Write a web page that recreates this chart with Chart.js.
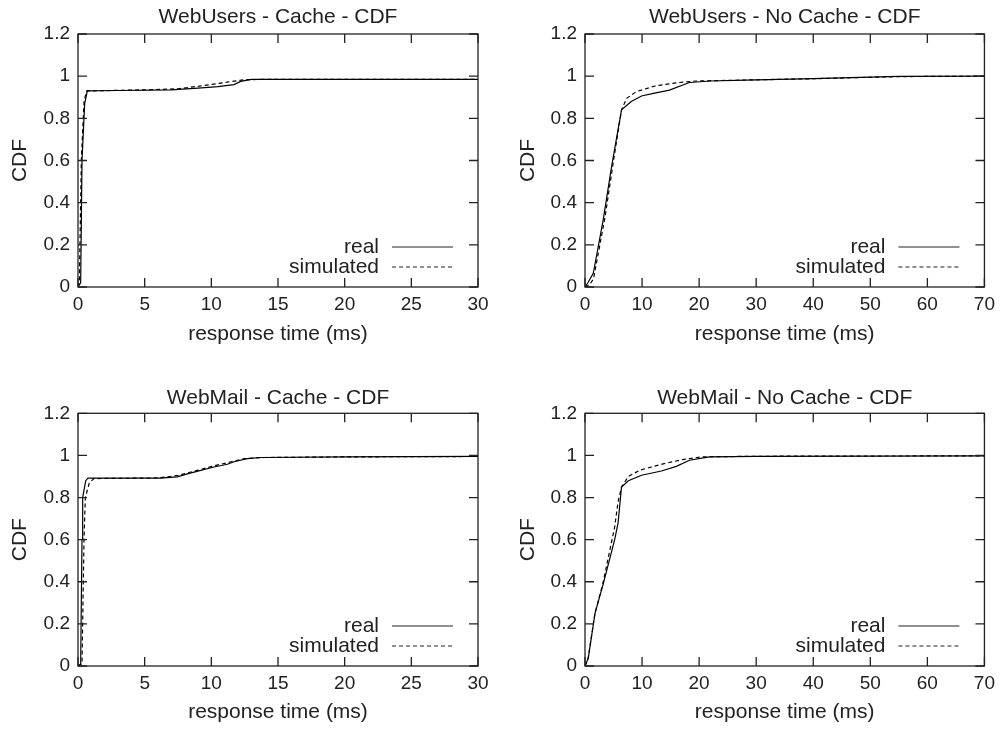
<!DOCTYPE html>
<html>
<head>
<meta charset="utf-8">
<script src="https://cdn.jsdelivr.net/npm/chart.js@4.4.0/dist/chart.umd.min.js"></script>
<style>
  body { margin: 0; background: #fff; width: 1001px; height: 729px; position: relative; overflow: hidden; }
  canvas { position: absolute; }
</style>
</head>
<body>
<canvas id="wuCache" width="500" height="365" style="left:0;top:0"></canvas>
<canvas id="wuNoCache" width="501" height="365" style="left:500px;top:0"></canvas>
<canvas id="wmCache" width="500" height="364" style="left:0;top:365px"></canvas>
<canvas id="wmNoCache" width="501" height="364" style="left:500px;top:365px"></canvas>
<script>
// [response time (ms), CDF]
const wuCacheReal = [[0,0],[0.2,0.02],[0.3,0.6],[0.5,0.87],[0.7,0.93],[3,0.932],[7,0.935],[9,0.943],[10.5,0.95],[11.7,0.96],[12.2,0.975],[13,0.985],[30,0.985]];
const wuCacheSim  = [[0,0],[0.1,0.02],[0.25,0.6],[0.45,0.88],[0.65,0.93],[5,0.935],[7.5,0.94],[9,0.952],[10.5,0.965],[11.5,0.975],[12.5,0.983],[14,0.985],[30,0.985]];

const wuNoCacheReal = [[0,0],[0.5,0.02],[1.45,0.065],[3.2,0.32],[4.65,0.57],[6.4,0.84],[8.1,0.88],[9.9,0.906],[12,0.918],[14.8,0.934],[18.3,0.97],[22,0.977],[30,0.982],[40,0.988],[50,0.995],[55,0.999],[70,1]];
const wuNoCacheSim  = [[0,0],[0.8,0.01],[1.5,0.04],[3.5,0.33],[5,0.6],[6.4,0.84],[7.3,0.895],[9,0.927],[12.5,0.955],[16.5,0.97],[19.4,0.977],[25,0.98],[40,0.988],[55,0.998],[70,1]];

const wmCacheReal = [[0,0],[0.2,0.01],[0.3,0.6],[0.35,0.8],[0.58,0.88],[0.75,0.892],[6.2,0.892],[7.45,0.898],[8.2,0.912],[8.7,0.921],[10.2,0.945],[11.2,0.958],[11.7,0.97],[12.7,0.985],[13.7,0.99],[20,0.993],[30,0.995]];
const wmCacheSim  = [[0,0],[0.3,0.01],[0.45,0.6],[0.55,0.8],[0.85,0.87],[1.2,0.89],[6,0.893],[7.5,0.905],[9,0.93],[10.5,0.955],[11.5,0.97],[12.5,0.985],[14,0.99],[20,0.993],[30,0.995]];

const wmNoCacheReal = [[0,0],[0.58,0.037],[1.75,0.25],[3.2,0.39],[5.2,0.6],[5.8,0.68],[6.4,0.85],[7.6,0.88],[9.9,0.906],[13.4,0.926],[16,0.948],[18.3,0.977],[21.8,0.993],[30,0.995],[70,0.998]];
const wmNoCacheSim  = [[0,0],[0.5,0.03],[1.75,0.25],[3.2,0.4],[5.2,0.66],[5.8,0.78],[6.4,0.85],[7.6,0.9],[9.6,0.93],[13.7,0.96],[17.1,0.98],[20.5,0.993],[30,0.996],[70,0.998]];

const seriesNames = ['real', 'simulated'];

const FONT = '"Liberation Sans", Arial, sans-serif';
const INK = '#222';

// gnuplot-like box with inward ticks and a legend in the lower right
const frame = {
  id: 'frame',
  afterDatasetsDraw(chart) {
    const { ctx, chartArea: a, scales: { x, y } } = chart;
    ctx.save();
    ctx.strokeStyle = INK;
    ctx.lineWidth = 1.3;
    ctx.strokeRect(a.left, a.top, a.right - a.left, a.bottom - a.top);
    ctx.beginPath();
    x.ticks.forEach(t => {
      const p = x.getPixelForValue(t.value);
      ctx.moveTo(p, a.bottom); ctx.lineTo(p, a.bottom - 9);
      ctx.moveTo(p, a.top); ctx.lineTo(p, a.top + 9);
    });
    y.ticks.forEach(t => {
      const p = y.getPixelForValue(t.value);
      ctx.moveTo(a.left, p); ctx.lineTo(a.left + 9, p);
      ctx.moveTo(a.right, p); ctx.lineTo(a.right - 9, p);
    });
    ctx.stroke();

    ctx.font = '21px ' + FONT;
    ctx.fillStyle = INK;
    ctx.textAlign = 'right';
    ctx.textBaseline = 'middle';
    chart.data.datasets.forEach((ds, i) => {
      const ly = a.bottom - 40 + i * 20;
      ctx.fillText(ds.label, a.right - 99, ly);
      ctx.beginPath();
      ctx.lineWidth = 1.2;
      ctx.setLineDash(ds.borderDash || []);
      ctx.moveTo(a.right - 86, ly);
      ctx.lineTo(a.right - 25, ly);
      ctx.stroke();
    });
    ctx.restore();
  }
};

function makeChart(id, title, real, sim, xMax, xStep, opts) {
  const toPts = arr => arr.map(p => ({ x: p[0], y: p[1] }));
  new Chart(document.getElementById(id), {
    type: 'line',
    data: {
      datasets: [
        { label: seriesNames[0], data: toPts(real), borderColor: '#000', borderWidth: 1.2 },
        { label: seriesNames[1], data: toPts(sim), borderColor: '#000', borderWidth: 1.2, borderDash: [4, 3] }
      ]
    },
    options: {
      responsive: false,
      animation: false,
      elements: { point: { radius: 0 }, line: { tension: 0 } },
      layout: { padding: { left: 0, right: opts.padRight, top: 0, bottom: 0 } },
      plugins: {
        legend: { display: false },
        tooltip: { enabled: false },
        title: {
          display: true,
          text: title,
          fullSize: false,
          color: INK,
          font: { family: FONT, size: 21, weight: 'normal', lineHeight: 1.2 },
          padding: { top: opts.titleTop, bottom: opts.titleBottom }
        }
      },
      scales: {
        x: {
          type: 'linear',
          min: 0, max: xMax,
          grid: { display: false, drawTicks: false },
          border: { display: false },
          ticks: { stepSize: xStep, color: INK, padding: 6, maxRotation: 0, font: { family: FONT, size: 19 } },
          title: {
            display: true, text: 'response time (ms)', color: INK,
            font: { family: FONT, size: 21, lineHeight: 1.2 },
            padding: { top: 0, bottom: opts.xTitleBottom }
          },
          afterFit(s) { s.height = opts.xHeight; }
        },
        y: {
          min: 0, max: 1.2,
          grid: { display: false, drawTicks: false },
          border: { display: false },
          ticks: {
            stepSize: 0.2, color: INK, padding: 8, font: { family: FONT, size: 19 },
            callback: v => String(Math.round(v * 10) / 10)
          },
          title: {
            display: true, text: 'CDF', color: INK,
            font: { family: FONT, size: 21, lineHeight: 1.2 },
            padding: { top: opts.yTitleTop, bottom: 0 }
          },
          afterFit(s) { s.width = opts.yWidth; }
        }
      }
    },
    plugins: [frame]
  });
}

const topLeft  = { padRight: 22, titleTop: 4.4, titleBottom: 4.4, xHeight: 78, xTitleBottom: 18.4, yWidth: 78, yTitleTop: 7.4 };
const topRight = { padRight: 15, titleTop: 4.4, titleBottom: 4.4, xHeight: 78, xTitleBottom: 18.4, yWidth: 85, yTitleTop: 15.4 };
const botLeft  = { padRight: 22, titleTop: 20.4, titleBottom: 2.7, xHeight: 63, xTitleBottom: 3.9, yWidth: 78, yTitleTop: 7.4 };
const botRight = { padRight: 15, titleTop: 20.4, titleBottom: 2.7, xHeight: 63, xTitleBottom: 3.9, yWidth: 85, yTitleTop: 15.4 };

makeChart('wuCache', 'WebUsers - Cache - CDF', wuCacheReal, wuCacheSim, 30, 5, topLeft);
makeChart('wuNoCache', 'WebUsers - No Cache - CDF', wuNoCacheReal, wuNoCacheSim, 70, 10, topRight);
makeChart('wmCache', 'WebMail - Cache - CDF', wmCacheReal, wmCacheSim, 30, 5, botLeft);
makeChart('wmNoCache', 'WebMail - No Cache - CDF', wmNoCacheReal, wmNoCacheSim, 70, 10, botRight);
</script>
</body>
</html>
